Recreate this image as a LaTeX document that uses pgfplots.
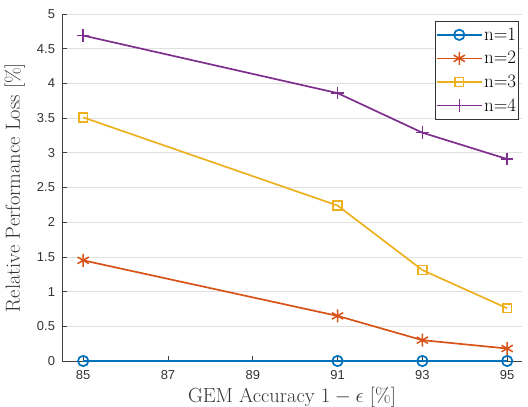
\documentclass[border=0pt]{standalone}
\usepackage{pgfplots}
\pgfplotsset{compat=1.18}
\usepackage{fontspec}
\newfontfamily\ticksans{Liberation Sans}
\definecolor{c1}{rgb}{0,0.447,0.741}
\definecolor{c2}{rgb}{0.85,0.325,0.098}
\definecolor{c3}{rgb}{0.929,0.694,0.125}
\definecolor{c4}{rgb}{0.494,0.184,0.556}
\begin{document}
\begin{tikzpicture}
\useasboundingbox (-62bp,-46bp) rectangle (466bp,361bp);
\begin{axis}[
  at={(0,0)}, anchor=south west,
  scale only axis,
  width=460bp, height=347bp,
  xmin=84.5, xmax=95.35,
  ymin=0, ymax=5,
  xtick={85,87,89,91,93,95},
  ytick={0,0.5,1,1.5,2,2.5,3,3.5,4,4.5,5},
  yticklabels={0,0.5,1,1.5,2,2.5,3,3.5,4,4.5,5},
  axis x line*=bottom, axis y line*=left,
  axis line style={black!75, line width=0.7bp},
  tick style={black!75, line width=0.7bp},
  tick align=inside,
  major tick length=5bp,
  ymajorgrids,
  grid style={black!12, line width=0.8bp},
  /pgf/number format/assume math mode=true,
  tick label style={font=\ticksans\fontsize{13}{15}\selectfont, text=black!80},
  yticklabel style={xshift=-3.5bp},
  xticklabel style={yshift=-6bp},
  xlabel={GEM Accuracy $1-\epsilon$ [\%]},
  ylabel={Relative Performance Loss [\%]},
  label style={font=\fontsize{20.5}{24}\selectfont, text=black!80},
  xlabel style={at={(axis description cs:0.5,0)}, anchor=base, yshift=-41bp},
  ylabel style={at={(axis description cs:0,0.5)}, anchor=base, yshift=42bp},
  legend style={at={(rel axis cs:0.9935,0.98)}, anchor=north east, draw=black!80, line width=0.8bp,
    font=\fontsize{19}{22}\selectfont, row sep=6.5bp, inner xsep=1bp, inner ysep=5bp,
    nodes={inner sep=1.5bp}},
  legend cell align=left,
  legend image code/.code={
    \draw[mark repeat=2,mark phase=2,#1] plot coordinates {(0bp,0bp) (22.5bp,0bp) (45bp,0bp)};
  },
  every axis plot/.append style={line width=1.7bp},
]
\addplot[c1, mark=o, mark size=5.2bp, mark options={line width=1.7bp}] coordinates {(85,0) (91,0) (93,0) (95,0)};
\addlegendentry{n=1}
\addplot[c2, mark=asterisk, mark size=6.5bp, mark options={line width=1.5bp}] coordinates {(85,1.45) (91,0.65) (93,0.30) (95,0.18)};
\addlegendentry{n=2}
\addplot[c3, mark=square, mark size=4.4bp, mark options={line width=1.5bp}] coordinates {(85,3.51) (91,2.24) (93,1.31) (95,0.76)};
\addlegendentry{n=3}
\addplot[c4, mark=+, mark size=6.3bp, mark options={line width=1.5bp}] coordinates {(85,4.69) (91,3.86) (93,3.29) (95,2.91)};
\addlegendentry{n=4}
\end{axis}
\end{tikzpicture}
\end{document}
